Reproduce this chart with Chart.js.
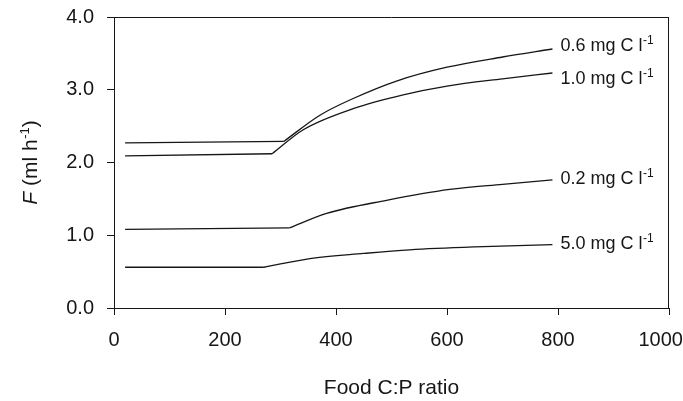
<!DOCTYPE html>
<html>
<head>
<meta charset="utf-8">
<script src="https://cdn.jsdelivr.net/npm/chart.js@4"></script>
<style>
  html, body { margin: 0; padding: 0; background: #fff; }
  #wrap { width: 683px; height: 401px; }
</style>
</head>
<body>
<div id="wrap"><canvas id="myChart"></canvas></div>
<script>
// food C:P ratio (x) and clearance rate F (y) for each food concentration
const concLabels = ['0.6 mg C l', '1.0 mg C l', '0.2 mg C l', '5.0 mg C l'];

const ratio06 = [20, 306, 371, 431, 509, 600, 700, 790];
const rate06  = [2.27, 2.29, 2.65, 2.88, 3.12, 3.31, 3.45, 3.56];

const ratio10 = [20, 285, 341, 431, 521, 600, 700, 790];
const rate10  = [2.09, 2.12, 2.45, 2.74, 2.93, 3.05, 3.15, 3.23];

const ratio02 = [20, 316, 383, 491, 605, 700, 790];
const rate02  = [1.08, 1.10, 1.30, 1.48, 1.63, 1.70, 1.76];

const ratio50 = [20, 270, 353, 450, 533, 650, 790];
const rate50  = [0.56, 0.56, 0.68, 0.75, 0.80, 0.84, 0.87];

const xTicks = [0, 200, 400, 600, 800, 1000];
const yTicks = [0, 1, 2, 3, 4];

const allRatios = [ratio06, ratio10, ratio02, ratio50];
const allRates = [rate06, rate10, rate02, rate50];

const FONT = '"Liberation Sans", Arial, sans-serif';
const INK = '#161616';

// flat part is a straight line, the rise is smooth and starts at the kink
let datasets = [];
allRatios.forEach(function(xs, i) {
    let ys = allRates[i];
    let pts = xs.map(function(x, j) { return { x: x, y: ys[j] }; });
    datasets.push({
        label: concLabels[i] + ' flat',
        data: pts.slice(0, 2),
        tension: 0
    });
    datasets.push({
        label: concLabels[i],
        data: pts.slice(1),
        cubicInterpolationMode: 'monotone'
    });
});

function drawSup(ctx, base, sup, x, y, size) {
    ctx.font = size + 'px ' + FONT;
    ctx.textBaseline = 'alphabetic';
    ctx.textAlign = 'left';
    ctx.fillText(base, x, y);
    let w = ctx.measureText(base).width;
    ctx.font = Math.round(size * 0.65) + 'px ' + FONT;
    ctx.fillText(sup, x + w + 0.5, y - size * 0.38);
}

// per label vertical nudge in pixels, relative to the end of its line
const labelNudge = [0, 9, 2, 2];

const extras = {
    id: 'extras',
    afterDraw(chart) {
        const ctx = chart.ctx;
        const a = chart.chartArea;
        const xs = chart.scales.x, ys = chart.scales.y;
        ctx.save();
        ctx.strokeStyle = INK;
        ctx.lineWidth = 1;
        ctx.beginPath();
        ctx.moveTo(a.left, a.top + 0.5);
        ctx.lineTo(a.right, a.top + 0.5);
        ctx.moveTo(a.right - 0.5, a.top);
        ctx.lineTo(a.right - 0.5, a.bottom);
        ctx.stroke();

        ctx.fillStyle = INK;
        allRatios.forEach(function(r, i) {
            let n = r.length - 1;
            let px = xs.getPixelForValue(r[n]) + 8;
            let py = ys.getPixelForValue(allRates[i][n]) + labelNudge[i] + 2;
            drawSup(ctx, concLabels[i], '-1', px, py, 18);
        });

        // x axis title
        ctx.font = '21px ' + FONT;
        ctx.textAlign = 'center';
        ctx.textBaseline = 'alphabetic';
        ctx.fillText('Food C:P ratio', (a.left + a.right) / 2, 394);

        // y axis title: italic F, then (ml h-1)
        ctx.translate(37, (a.top + a.bottom) / 2);
        ctx.rotate(-Math.PI / 2);
        ctx.font = 'italic 21px ' + FONT;
        let wF = ctx.measureText('F').width;
        ctx.font = '21px ' + FONT;
        let wB = ctx.measureText(' (ml h').width;
        ctx.font = '13px ' + FONT;
        let wS = ctx.measureText('-1').width;
        ctx.font = '21px ' + FONT;
        let wC = ctx.measureText(')').width;
        let x0 = -(wF + wB + wS + wC + 0.5) / 2;
        ctx.textAlign = 'left';
        ctx.textBaseline = 'alphabetic';
        ctx.font = 'italic 21px ' + FONT;
        ctx.fillText('F', x0, 0);
        ctx.font = '21px ' + FONT;
        ctx.fillText(' (ml h', x0 + wF, 0);
        ctx.font = '13px ' + FONT;
        ctx.fillText('-1', x0 + wF + wB + 0.5, -8);
        ctx.font = '21px ' + FONT;
        ctx.fillText(')', x0 + wF + wB + wS + 0.5, 0);
        ctx.restore();
    }
};

let myChart = document.getElementById('myChart').getContext('2d');

let rateChart = new Chart(myChart, {
    type: 'line',
    data: { datasets: datasets },
    options: {
        responsive: true,
        maintainAspectRatio: false,
        animation: false,
        borderColor: INK,
        borderWidth: 1.3,
        pointRadius: 0,
        layout: { padding: { top: 17, right: 14, left: 0, bottom: 0 } },
        plugins: {
            legend: { display: false },
            tooltip: { enabled: false }
        },
        scales: {
            x: {
                type: 'linear',
                min: 0,
                max: 1000,
                afterBuildTicks: function(scale) {
                    scale.ticks = xTicks.map(function(v) { return { value: v }; });
                },
                afterFit: function(scale) {
                    scale.height = 93;
                    scale.paddingLeft = 0;
                    scale.paddingRight = 0;
                },
                ticks: {
                    color: INK,
                    padding: 13,
                    maxRotation: 0,
                    // last label sits a little left of its tick, as in the figure
                    callback: function(value) {
                        return value === 1000 ? '1000   ' : String(value);
                    },
                    font: { family: FONT, size: 20 }
                },
                grid: {
                    drawOnChartArea: false,
                    tickLength: 7,
                    color: INK
                },
                border: { color: INK, width: 1 }
            },
            y: {
                min: 0,
                max: 4,
                afterBuildTicks: function(scale) {
                    scale.ticks = yTicks.map(function(v) { return { value: v }; });
                },
                afterFit: function(scale) {
                    scale.width = 114;
                    scale.paddingTop = 0;
                    scale.paddingBottom = 0;
                },
                ticks: {
                    color: INK,
                    padding: 13,
                    callback: function(value) { return value.toFixed(1); },
                    font: { family: FONT, size: 20 }
                },
                grid: {
                    drawOnChartArea: false,
                    tickLength: 7,
                    color: INK
                },
                border: { color: INK, width: 1 }
            }
        }
    },
    plugins: [extras]
});
</script>
</body>
</html>
